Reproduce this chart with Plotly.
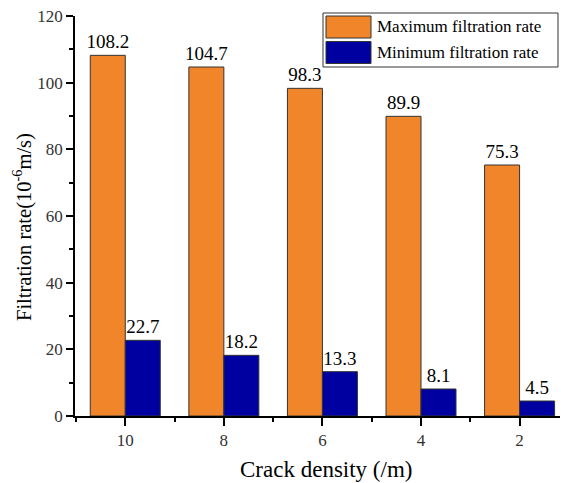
import plotly.graph_objects as go

categories = ["10", "8", "6", "4", "2"]
max_rate = [108.2, 104.7, 98.3, 89.9, 75.3]
min_rate = [22.7, 18.2, 13.3, 8.1, 4.5]
series_names = ["Maximum filtration rate", "Minimum filtration rate"]
colors = ["#F0852A", "#0000A0"]
x_title = "Crack density (/m)"
y_title = "Filtration rate(10<sup>-6</sup>m/s)"

W, H = 561, 483
L, R, T, B = 75, 1, 16, 67
pw, ph = W - L - R, H - T - B

def px_x(x):
    return (x - L) / pw

def px_y(y):
    return (H - B - y) / ph

FONT = "Liberation Serif"
xpos = list(range(len(categories)))

fig = go.Figure()
for name, vals, col in zip(series_names, [max_rate, min_rate], colors):
    fig.add_trace(go.Bar(
        x=xpos, y=vals, name=name,
        marker=dict(color=col, line=dict(color="#333333", width=1)),
        text=[f"{v}" for v in vals], textposition="outside",
        textfont=dict(family=FONT, size=19, color="black"),
        constraintext="none",
        cliponaxis=False, showlegend=False,
    ))

fig.update_layout(
    width=W, height=H,
    margin=dict(l=L, r=R, t=T, b=B, autoexpand=False),
    paper_bgcolor="white", plot_bgcolor="white",
    barmode="group", bargap=0.29, bargroupgap=0,
    font=dict(family=FONT, color="black"),
)
fig.update_xaxes(
    range=[-0.51, 4.41], tickvals=xpos, ticktext=categories,
    ticks="outside", ticklen=8, tickwidth=1.5, tickcolor="black",
    minor=dict(tick0=-0.5, dtick=1, ticks="outside", ticklen=4, tickwidth=1.5, tickcolor="black"),
    showline=True, linecolor="black", linewidth=1.5, showgrid=False, zeroline=False,
    tickfont=dict(family=FONT, size=17, color="#333333"),
    automargin=False,
)
fig.update_yaxes(
    range=[0, 120], dtick=20, tick0=0,
    ticks="outside", ticklen=7, tickwidth=1.5, tickcolor="black",
    minor=dict(dtick=10, ticks="outside", ticklen=4, tickwidth=1.5, tickcolor="black"),
    showline=True, linecolor="black", linewidth=1.5, showgrid=False, zeroline=False,
    tickfont=dict(family=FONT, size=17, color="#333333"),
    automargin=False,
)

# axis titles as annotations for exact placement
annotations = [
    dict(xref="paper", yref="paper", x=px_x(326), y=px_y(469), xanchor="center", yanchor="middle",
         showarrow=False, text=x_title, font=dict(family=FONT, size=23, color="black")),
    dict(xref="paper", yref="paper", x=px_x(22), y=px_y(227), xanchor="center", yanchor="middle",
         showarrow=False, textangle=-90, text=y_title, font=dict(family=FONT, size=20.5, color="black")),
]

# custom legend
shapes = [dict(type="rect", xref="paper", yref="paper",
               x0=px_x(323), x1=px_x(558), y0=px_y(67), y1=px_y(13),
               line=dict(color="#333333", width=1), fillcolor="white", layer="above")]
for i, (name, col) in enumerate(zip(series_names, colors)):
    y0 = 16 + i * 25.5
    shapes.append(dict(type="rect", xref="paper", yref="paper",
                       x0=px_x(326), x1=px_x(371), y0=px_y(y0 + 22), y1=px_y(y0),
                       line=dict(color="#333333", width=1), fillcolor=col, layer="above"))
    annotations.append(dict(xref="paper", yref="paper", x=px_x(375), y=px_y(y0 + 11),
                            xanchor="left", yanchor="middle", showarrow=False,
                            text=name, font=dict(family=FONT, size=17, color="black")))
fig.update_layout(shapes=shapes, annotations=annotations)

fig.write_html("out.html", config={"displayModeBar": False},
               post_script="document.body.style.margin='0';")
